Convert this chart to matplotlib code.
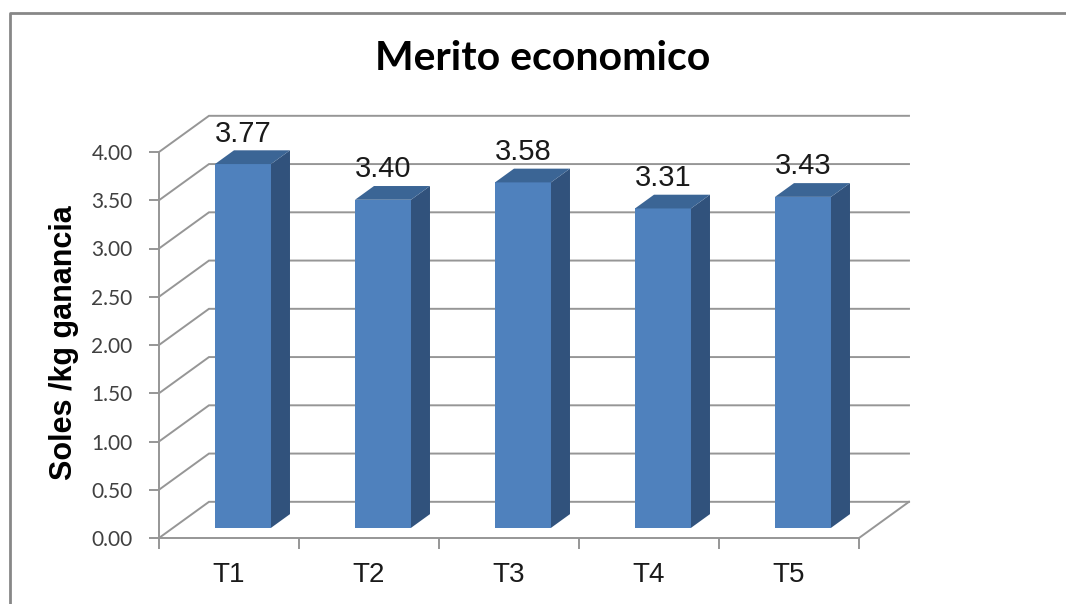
import matplotlib
matplotlib.use("Agg")
import matplotlib.pyplot as plt
from matplotlib.lines import Line2D

categories = ["T1", "T2", "T3", "T4", "T5"]
values = [3.77, 3.40, 3.58, 3.31, 3.43]
yticks = [0.0, 0.5, 1.0, 1.5, 2.0, 2.5, 3.0, 3.5, 4.0]

# pseudo-3D depth of the plot box (in data units) and bar placement in depth
DDX, DDY = 0.357, 0.375
F0, F1 = 0.28, 0.66
BAR_W = 0.40
GRID = "#969696"

fig = plt.figure(figsize=(10.66, 6.04), dpi=100)
W, H = 1066, 604
ax = fig.add_axes([159 / W, 66 / H, 700 / W, 386 / H])
n = len(categories)
xs = list(range(1, n + 1))
x0, x1 = 0.5, n + 0.5
ax.set_xlim(x0, x1)
ax.set_ylim(0, 4)

# side wall + back wall gridlines
for v in yticks:
    ax.plot([x0, x0 + DDX, x1 + DDX], [v, v + DDY, v + DDY], color=GRID, lw=1.4,
            clip_on=False, zorder=1, solid_joinstyle="miter")
# floor front/right edges
ax.plot([x0, x1, x1 + DDX], [0, 0, DDY], color=GRID, lw=1.4, clip_on=False, zorder=1)

# bars as three faces each
for x, v in zip(xs, values):
    l = x - BAR_W / 2 + F0 * DDX
    r = x + BAR_W / 2 + F0 * DDX
    b = F0 * DDY
    t = v + F0 * DDY
    ddx, ddy = (F1 - F0) * DDX, (F1 - F0) * DDY
    ax.fill([l, r, r, l], [b, b, t, t], color="#4F81BD", lw=0, clip_on=False, zorder=3)
    ax.fill([r, r + ddx, r + ddx, r], [b, b + ddy, t + ddy, t], color="#31527C",
            lw=0, clip_on=False, zorder=3)
    ax.fill([l, r, r + ddx, l + ddx], [t, t, t + ddy, t + ddy], color="#3B6595",
            lw=0, clip_on=False, zorder=3)
    ax.annotate(f"{v:.2f}", (x + F0 * DDX, v + F1 * DDY), xytext=(0, 2),
                textcoords="offset points", ha="center", va="bottom",
                annotation_clip=False, fontsize=21, family="Liberation Sans",
                color="#1a1a1a", zorder=4)

for s in ["top", "right", "bottom"]:
    ax.spines[s].set_visible(False)
ax.spines["left"].set_color(GRID)
ax.spines["left"].set_linewidth(1.4)
ax.set_yticks(yticks)
ax.set_yticklabels([f"{v:.2f}" for v in yticks], family="Lato", fontsize=15, color="#404040")
ax.tick_params(axis="y", length=7, width=1.4, color=GRID, pad=12)
ax.set_xticks([x0 + i for i in range(n + 1)], minor=True)
ax.set_xticks(xs)
ax.set_xticklabels(categories, family="Liberation Sans", fontsize=20, color="#1a1a1a")
ax.tick_params(axis="x", which="major", length=0, pad=17)
ax.tick_params(axis="x", which="minor", length=8, width=1.4, color=GRID)
ax.patch.set_alpha(0)

fig.text(543 / W, 1 - 59 / H, "Merito economico", family="Lato", fontweight="bold",
         fontsize=29.5, ha="center", va="center")
fig.text(64 / W, 1 - 343 / H, "Soles /kg ganancia", family="Liberation Sans",
         fontweight="bold", fontsize=22, rotation=90, ha="center", va="center")

# chart area border (left and top visible)
fig.add_artist(Line2D([10 / W, 10 / W, 1.0], [0.0, 1 - 13 / H, 1 - 13 / H],
                      color="#878787", lw=2.0, transform=fig.transFigure))

fig.savefig("out.png", dpi=100)
